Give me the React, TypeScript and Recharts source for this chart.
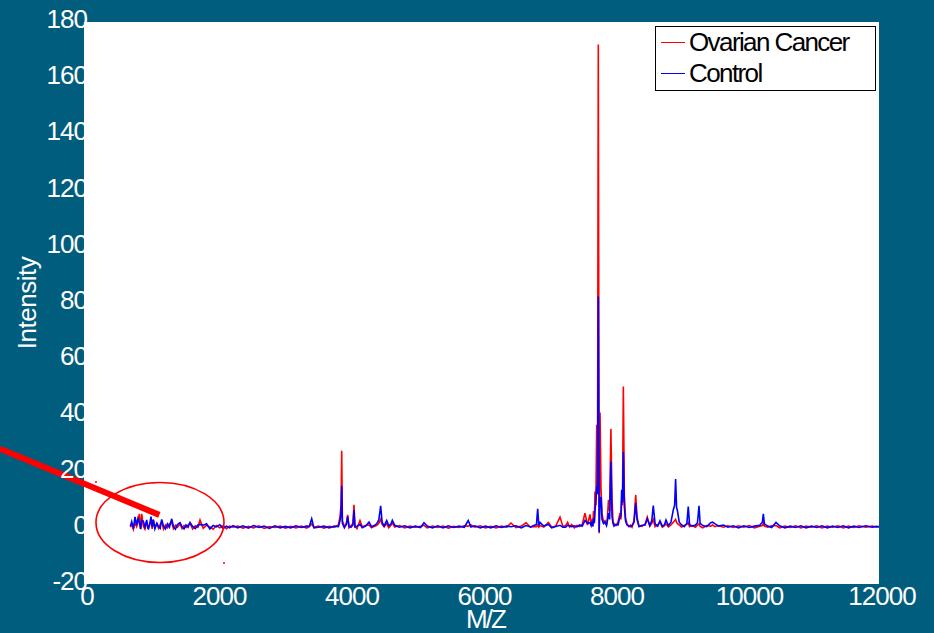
import { LineChart, Line, XAxis, YAxis, Legend, ReferenceArea, ReferenceDot, ReferenceLine } from 'recharts';

// m/z positions, then the two spectra (same length, 10 per row)
const MZ = [
  700, 720, 745, 770, 795, 815, 835, 855, 871, 895,
  920, 946, 970, 990, 1011, 1030, 1046, 1070, 1100, 1125,
  1150, 1173, 1200, 1230, 1260, 1290, 1324, 1350, 1380, 1410,
  1449, 1480, 1510, 1540, 1570, 1600, 1640, 1680, 1720, 1751,
  1800, 1850, 1900, 1950, 2000, 2050, 2100, 2150, 2200, 2250,
  2320, 2400, 2480, 2560, 2640, 2720, 2800, 2880, 2960, 3040,
  3120, 3200, 3280, 3360, 3400, 3437, 3470, 3540, 3620, 3700,
  3780, 3840, 3864, 3880, 3890, 3900, 3930, 3960, 3980, 4000,
  4030, 4060, 4075, 4090, 4120, 4166, 4200, 4250, 4302, 4340,
  4380, 4420, 4450, 4478, 4500, 4530, 4569, 4600, 4630, 4654,
  4690, 4760, 4840, 4920, 5000, 5080, 5132, 5180, 5260, 5340,
  5420, 5500, 5580, 5660, 5740, 5800, 5840, 5900, 5980, 6060,
  6140, 6220, 6300, 6380, 6445, 6520, 6600, 6672, 6740, 6800,
  6830, 6848, 6865, 6883, 6940, 7009, 7060, 7120, 7185, 7230,
  7270, 7300, 7330, 7360, 7400, 7440, 7480, 7520, 7562, 7600,
  7638, 7655, 7668, 7680, 7691, 7703, 7713, 7726, 7739, 7751,
  7763, 7776, 7789, 7804, 7819, 7842, 7864, 7887, 7900, 7917,
  7934, 7953, 7970, 7985, 8000, 8030, 8060, 8091, 8105, 8116,
  8128, 8141, 8156, 8174, 8196, 8226, 8250, 8272, 8302, 8328,
  8347, 8377, 8423, 8470, 8502, 8540, 8570, 8593, 8620, 8660,
  8694, 8730, 8760, 8785, 8820, 8860, 8895, 8915, 8930, 8945,
  8955, 8985, 9020, 9060, 9100, 9121, 9140, 9180, 9230, 9260,
  9283, 9300, 9340, 9400, 9460, 9487, 9520, 9580, 9650, 9720,
  9800, 9880, 9960, 10040, 10120, 10200, 10240, 10254, 10270, 10320,
  10380, 10445, 10500, 10580, 10660, 10740, 10820, 10900, 10980, 11060,
  11140, 11220, 11300, 11380, 11460, 11540, 11620, 11700, 11800, 11900,
  11960, 12000,
];

const CANCER = [
  0.2, 1.4, -0.6, 1.8, 0.4, 2.0, 5.0, -0.4, 5.0, 0.6,
  -0.5, 1.6, 0.0, 1.2, 2.4, -0.4, 3.0, 0.3, 1.5, -0.2,
  1.2, 2.2, -0.5, 1.0, 0.0, 1.4, 2.0, -0.3, 0.9, 0.2,
  1.4, -0.3, 0.8, 0.1, 1.0, 1.6, -0.4, 0.7, 0.2, 2.8,
  -0.2, 0.9, 0.3, -0.5, 0.8, 0.0, 0.7, -0.3, 0.6, 0.2,
  0.6, -0.1, 0.5, 0.0, 0.7, -0.2, 0.4, 0.1, 0.6, -0.1,
  0.5, 0.0, 0.6, -0.1, 0.4, 1.4, 0.2, 0.6, -0.1, 0.5,
  0.2, 1.0, 4.0, 8.0, 27.4, 2.5, 0.5, 1.5, 4.6, 0.0,
  0.8, 1.5, 8.2, 0.6, -0.3, 2.6, 0.4, 0.8, 1.0, 0.0,
  0.5, 0.9, 1.6, 3.0, 1.2, 0.4, 1.5, 0.0, 0.8, 1.8,
  0.3, 0.8, 0.0, 0.6, 0.2, 0.5, 0.9, 0.0, 0.6, 0.1,
  0.6, -0.1, 0.5, 0.1, 0.7, 0.6, 1.0, 0.2, 0.7, 0.0,
  0.5, 0.0, 0.6, 0.2, 1.7, 0.1, 0.6, 1.8, 0.2, 0.5,
  0.4, 1.0, 0.2, 0.8, 0.3, 1.9, 0.2, 0.6, 3.8, 0.4,
  0.8, 2.0, 0.3, 1.2, 0.0, 0.8, 0.4, 1.2, 5.2, 1.0,
  4.8, 1.2, 3.0, 0.6, 6.0, 2.0, 12.9, 8.0, 36.7, 14.0,
  172, -1.9, 41, 14.1, 5.0, 2.0, 2.5, 1.0, 3.5, 10.0,
  6.0, 35.2, 10.6, 2.0, 1.5, 0.8, 2.0, 5.3, 3.0, 10.0,
  8.0, 50.3, 11.7, 3.4, 1.5, 0.4, 1.0, 0.2, 2.5, 11.7,
  4.0, 0.8, 0.5, 1.4, 3.8, 0.6, 1.6, 3.0, 0.4, 1.0,
  2.0, 0.2, 0.8, 1.4, 0.3, 1.0, 2.0, 2.5, 3.0, 2.0,
  1.5, 1.0, 0.3, 0.8, 1.2, 1.8, 0.4, 0.8, 0.2, 1.0,
  1.4, 0.5, 0.0, 0.8, 0.6, 1.0, 0.4, 0.8, 0.2, 0.7,
  0.1, 0.7, 0.2, 0.8, 0.0, 0.6, 0.8, 1.5, 0.6, 0.2,
  0.7, 0.8, 0.0, 0.6, 0.1, 0.7, 0.0, 0.6, 0.2, 0.7,
  0.0, 0.6, 0.2, 0.7, 0.0, 0.6, 0.1, 0.7, 0.2, 0.6,
  0.3, 0.5,
];

const CONTROL = [
  0.6, 2.2, -0.3, 3.9, 1.0, 3.4, 2.0, -0.5, 2.6, 2.4,
  0.3, 2.8, -0.6, 1.0, 4.0, 0.2, 2.8, -0.4, 1.6, 0.4,
  -0.2, 3.0, 0.6, -0.4, 1.4, 0.2, 3.2, 0.4, -0.5, 1.2,
  1.8, 0.4, -0.4, 1.0, 0.2, 1.9, 0.5, -0.3, 1.0, 1.2,
  0.9, 1.4, -0.4, 0.8, 0.3, 1.1, -0.2, 0.6, 0.0, 0.8,
  0.0, 0.7, -0.1, 0.8, 0.1, 0.6, -0.2, 0.7, 0.0, 0.5,
  0.0, 0.7, 0.1, 0.6, 0.5, 3.2, 0.0, 0.2, 0.6, 0.0,
  0.6, 0.4, 2.5, 5.0, 15.0, 1.6, 0.0, 1.2, 4.0, 0.5,
  0.2, 1.0, 6.2, 0.3, 0.6, 1.2, 0.0, 0.6, 2.0, 0.4,
  0.8, 1.5, 2.8, 7.8, 2.0, 0.6, 2.6, 0.8, 1.2, 2.7,
  0.9, 0.2, 0.7, 0.0, 0.6, 0.1, 1.8, 0.6, 0.0, 0.7,
  0.0, 0.7, 0.1, 0.6, 0.2, 2.6, 0.3, 0.7, 0.0, 0.6,
  0.0, 0.7, 0.1, 0.6, 0.4, 0.7, 0.0, 0.8, 0.3, 0.9,
  1.2, 6.8, 0.8, 1.9, 0.6, 1.2, 0.0, 0.5, 0.9, 0.2,
  0.2, 0.9, 0.6, 0.4, 0.7, 0.3, 1.0, 0.6, 2.6, 1.6,
  1.8, 0.8, 2.2, 0.5, 3.5, 1.6, 6.0, 9.5, 14.7, 12.0,
  82.3, -1.5, 9.4, 11.0, 3.0, 1.5, 2.0, 0.8, 2.4, 5.2,
  3.0, 23.6, 4.0, 1.6, 0.6, 1.2, 1.0, 4.0, 4.5, 13.5,
  9.0, 27.0, 7.6, 2.5, 1.0, 0.6, 0.4, 0.8, 2.0, 8.8,
  3.0, 0.4, 0.9, 1.0, 3.2, 0.8, 2.6, 7.9, 1.4, 0.6,
  2.5, 0.6, 1.0, 2.8, 0.8, 2.0, 6.4, 8.0, 17.4, 7.0,
  6.4, 2.0, 1.0, 0.4, 1.6, 7.6, 1.2, 0.6, 1.0, 1.8,
  7.8, 1.6, 0.8, 0.4, 1.8, 2.0, 1.5, 0.6, 1.0, 0.2,
  0.7, 0.0, 0.7, 0.1, 0.6, 0.9, 2.0, 5.0, 1.4, 0.6,
  0.1, 1.9, 0.7, 0.0, 0.6, 0.1, 0.7, 0.0, 0.6, 0.1,
  0.7, 0.0, 0.6, 0.1, 0.7, 0.0, 0.6, 0.1, 0.7, 0.2,
  0.5, 0.3,
];

const SERIES_ORDER = ['cancer', 'control'];
const X_TICKS = [0, 2000, 4000, 6000, 8000, 10000, 12000];
const Y_TICKS = [-20, 0, 20, 40, 60, 80, 100, 120, 140, 160, 180];

const data = MZ.map((mz, i) => ({ mz, cancer: CANCER[i], control: CONTROL[i] }));

const FONT = "'Liberation Sans', Arial, sans-serif";
const BG = '#015d7d';

const YTick = ({ x, y, payload }: any) => (
  <text x={x + 3} y={y - 3} textAnchor="end" dominantBaseline="central" fill="#fff" fontSize={26} letterSpacing={-1} fontFamily={FONT}>
    {payload.value}
  </text>
);

const XTick = ({ x, y, payload }: any) => (
  <text x={x + 3} y={y + 21} textAnchor="middle" fill="#fff" fontSize={26} letterSpacing={-1} fontFamily={FONT}>
    {payload.value}
  </text>
);

const LegendBox = ({ payload }: any) => {
  const items = [...(payload || [])].sort(
    (a: any, b: any) => SERIES_ORDER.indexOf(a.dataKey) - SERIES_ORDER.indexOf(b.dataKey)
  );
  return (
    <div style={{ border: '1px solid #000', background: '#fff', width: 219, height: 63, fontFamily: FONT, fontSize: 26, letterSpacing: -1.6, color: '#000', boxSizing: 'content-box' }}>
      {items.map((p: any) => (
        <div key={p.value} style={{ display: 'flex', alignItems: 'center', height: 31, lineHeight: '31px' }}>
          <span style={{ display: 'inline-block', width: 24, height: 1, background: p.color, marginLeft: 5, marginRight: 4 }} />
          <span>{p.value}</span>
        </div>
      ))}
    </div>
  );
};

export default function App() {
  return (
    <div style={{ position: 'absolute', left: 0, top: 0, width: 934, height: 633, background: BG, overflow: 'hidden' }}>
      <LineChart width={934} height={633} data={data} margin={{ top: 22, right: 55, bottom: 0, left: 0 }}>
        <XAxis
          dataKey="mz"
          type="number"
          domain={[0, 12000]}
          ticks={X_TICKS}
          height={49}
          axisLine={false}
          tickLine={false}
          tickSize={0}
          tickMargin={0}
          tick={<XTick />}
          label={{
            content: ({ viewBox }: any) => (
              <text x={viewBox.x + viewBox.width / 2 + 4} y={viewBox.y + 44} textAnchor="middle" fill="#fff" fontSize={26} letterSpacing={-2} fontFamily={FONT}>
                M/Z
              </text>
            ),
          }}
        />
        <YAxis
          type="number"
          domain={[-20, 180]}
          ticks={Y_TICKS}
          width={84}
          axisLine={false}
          tickLine={false}
          tickSize={0}
          tickMargin={0}
          tick={<YTick />}
          label={{
            content: ({ viewBox }: any) => (
              <text x={27} y={viewBox.y + viewBox.height / 2} transform={`rotate(-90 27 ${viewBox.y + viewBox.height / 2})`} textAnchor="middle" dominantBaseline="central" fill="#fff" fontSize={26} letterSpacing={-0.5} fontFamily={FONT}>
                Intensity
              </text>
            ),
          }}
        />
        <ReferenceArea x1={0} x2={12000} y1={-20} y2={180} fill="#fff" fillOpacity={1} stroke="none" />
        <Legend
          layout="horizontal"
          verticalAlign="middle"
          align="center"
          content={<LegendBox />}
          wrapperStyle={{ left: 655, top: 26, width: 221, height: 65 }}
        />
        <Line type="linear" dataKey="cancer" name="Ovarian Cancer" stroke="#ff0000" strokeWidth={1.6} dot={false} isAnimationActive={false} />
        <Line type="linear" dataKey="control" name="Control" stroke="#0000ff" strokeWidth={1.6} dot={false} isAnimationActive={false} />
        <ReferenceDot
          x={1147}
          y={1.9}
          r={1}
          ifOverflow="visible"
          shape={(p: any) => <ellipse cx={p.cx} cy={p.cy} rx={64} ry={40} fill="none" stroke="#ff0000" strokeWidth={1.6} />}
        />
        <ReferenceDot x={181} y={16.3} r={1} fill="#ff0000" stroke="none" />
        <ReferenceDot x={2113} y={-12.5} r={1} fill="#ff0000" stroke="none" />
        <ReferenceLine
          segment={[{ x: -1268, y: 28.1 }, { x: 1137, y: 4.6 }]}
          stroke="#ff0000"
          strokeWidth={6}
          ifOverflow="visible"
        />
      </LineChart>
    </div>
  );
}
